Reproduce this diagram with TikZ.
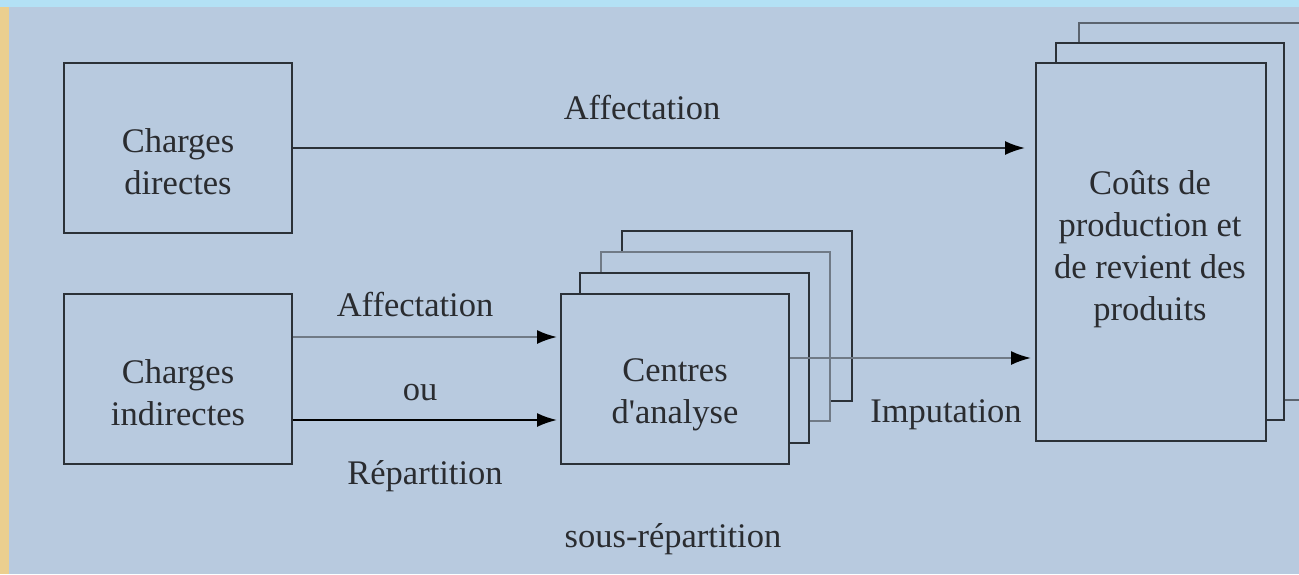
\documentclass[tikz,border=0pt]{standalone}
\usepackage{fontspec}
\setmainfont{Liberation Serif}
\usetikzlibrary{arrows.meta}
\definecolor{bgC}{HTML}{B8CADF}
\definecolor{topC}{HTML}{B3E1F5}
\definecolor{leftC}{HTML}{EBCF8F}
\definecolor{lineC}{HTML}{2B3138}
\definecolor{grayC}{HTML}{707A86}
\definecolor{txtC}{HTML}{2A2C30}
\begin{document}
\begin{tikzpicture}[x=1pt,y=-1pt,
  box/.style={draw=lineC, line width=2pt, inner sep=0pt},
  back/.style={draw=lineC, line width=2pt},
  txt/.style={text=txtC, font=\fontsize{34.5}{41.7}\selectfont, align=center, anchor=base, inner sep=0pt},
  arr/.style={draw=lineC, line width=2pt, -{Latex[length=20pt,width=14pt,color=black]}}]
\useasboundingbox (0,0) rectangle (1299,574);
\clip (0,0) rectangle (1299,574);
\fill[bgC] (0,0) rectangle (1299,574);
\fill[topC] (0,0) rectangle (1299,7);
\fill[leftC] (0,7) rectangle (9,574);

% stacked back sheets (centres d'analyse)
\draw[back] (622,252) -- (622,231) -- (852,231) -- (852,401) -- (830,401);
\draw[back, draw=grayC] (601,273) -- (601,252) -- (830,252) -- (830,421) -- (809,421);
\draw[back] (580,294) -- (580,273) -- (809,273) -- (809,443) -- (789,443);
% stacked back sheets (couts)
\draw[back, draw=grayC!70!lineC] (1079,43) -- (1079,23) -- (1310,23) -- (1310,400) -- (1284,400);
\draw[back] (1056,63) -- (1056,43) -- (1284,43) -- (1284,420) -- (1266,420);

% main boxes
\node[box, minimum width=228pt, minimum height=170pt] (cd) at (178,148) {};
\node[box, minimum width=228pt, minimum height=170pt] (ci) at (178,379) {};
\node[box, minimum width=228pt, minimum height=170pt] (ca) at (675,379) {};
\node[box, minimum width=230pt, minimum height=378pt] (co) at (1151,252) {};

% texts in boxes (base = last line)
\node[txt] (cdt) at (178,194) {Charges\\directes};
\node[txt] (cit) at (178,425) {Charges\\indirectes};
\node[txt] (cat) at (675,423) {Centres\\d\textquotesingle analyse};
\node[txt] (cot) at (1150,320) {Coûts de\\production et\\de revient des\\produits};

% connectors
\coordinate (ya) at (0,337);
\coordinate (yb) at (0,420);
\coordinate (yc) at (0,358);
\draw[arr, shorten >=10pt] (cd.east) -- (cd.east -| co.west);
\draw[arr, draw=grayC, shorten >=3pt] (ci.east |- ya) -- (ca.west |- ya);
\draw[arr, draw=black, shorten >=3pt] (ci.east |- yb) -- (ca.west |- yb);
\draw[arr, draw=grayC, shorten >=4pt] (ca.east |- yc) -- (co.west |- yc);

% labels
\node[txt] (l1) at (642,119) {Affectation};
\node[txt] (l2) at (415,316) {Affectation};
\node[txt] (l3) at (420,400) {ou};
\node[txt] (l4) at (425,484) {Répartition};
\node[txt] (l5) at (673,547) {sous-répartition};
\node[txt] (l6) at (946,422) {Imputation};
\end{tikzpicture}
\end{document}
